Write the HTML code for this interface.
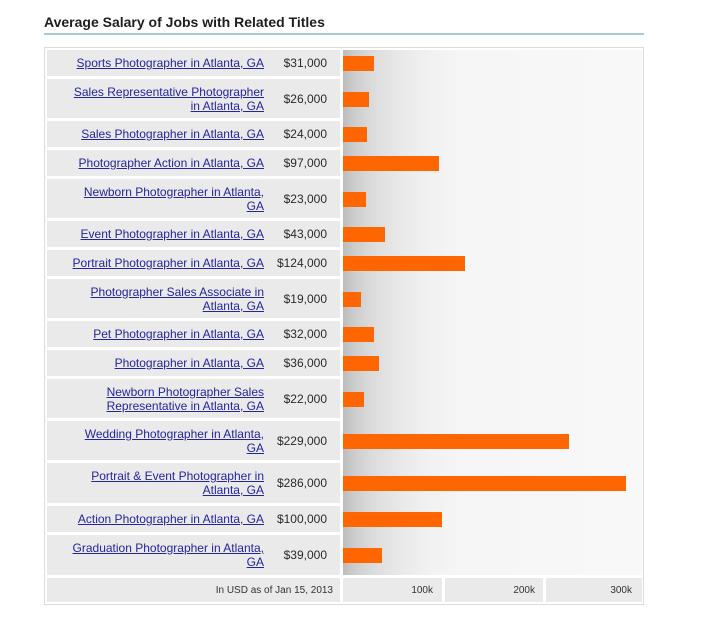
<!DOCTYPE html>
<html><head><meta charset="utf-8">
<style>
*{margin:0;padding:0;box-sizing:border-box}
body{width:705px;height:627px;background:#fff;position:relative;overflow:hidden;font-family:"Liberation Sans",Arial,sans-serif}
.title{position:absolute;left:44px;top:14px;font-size:14px;font-weight:bold;color:#1e1e1e;white-space:nowrap;line-height:17px}
.rule{position:absolute;left:44px;top:33px;width:600px;height:2px;background:#a9c8e2}
.box{position:absolute;left:44px;top:47px;width:600px;height:558px;border:1px solid #dcdcdc}
.cell{position:absolute;left:47px;width:293px;background:#eaeaea}
.lab{position:absolute;left:47px;width:217px;text-align:right;font-size:12px;line-height:14px;color:#24249e;text-decoration:underline;white-space:nowrap;display:flex;align-items:center;justify-content:flex-end}
.lab span{display:block;margin-top:0px}
.val{position:absolute;left:264px;width:63px;text-align:right;font-size:12px;line-height:14px;color:#2a2a2a;white-space:nowrap;display:flex;align-items:center;justify-content:flex-end}
.val span{display:block;margin-top:0px}
.chart{position:absolute;left:343px;top:50px;width:299px;height:525px;background:linear-gradient(to right,#bcbcbc 0px,#cdcdcd 12px,#dcdcdc 30px,#e8e8e8 55px,#f1f1f1 85px,#f6f6f6 120px,#f8f8f8 299px)}
.bar{position:absolute;left:343px;height:15px;background:#ff6600}
.foot{position:absolute;top:578px;height:24px;background:#eaeaea;font-size:10px;color:#333;line-height:25px;text-align:right;white-space:nowrap}
</style></head><body>
<div class="title">Average Salary of Jobs with Related Titles</div>
<div class="rule"></div>
<div class="box"></div>
<div class="chart"></div>

<div class="cell" style="top:50px;height:26px"></div>
<div class="lab" style="top:50px;height:26px"><span>Sports Photographer in Atlanta, GA</span></div>
<div class="val" style="top:50px;height:26px"><span>$31,000</span></div>
<div class="bar" style="top:56px;width:31px"></div>

<div class="cell" style="top:79px;height:39px"></div>
<div class="lab" style="top:79px;height:39px"><span>Sales Representative Photographer<br>in Atlanta, GA</span></div>
<div class="val" style="top:79px;height:39px"><span>$26,000</span></div>
<div class="bar" style="top:92px;width:26px"></div>

<div class="cell" style="top:121px;height:26px"></div>
<div class="lab" style="top:121px;height:26px"><span>Sales Photographer in Atlanta, GA</span></div>
<div class="val" style="top:121px;height:26px"><span>$24,000</span></div>
<div class="bar" style="top:127px;width:24px"></div>

<div class="cell" style="top:150px;height:26px"></div>
<div class="lab" style="top:150px;height:26px"><span>Photographer Action in Atlanta, GA</span></div>
<div class="val" style="top:150px;height:26px"><span>$97,000</span></div>
<div class="bar" style="top:156px;width:96px"></div>

<div class="cell" style="top:179px;height:39px"></div>
<div class="lab" style="top:179px;height:39px"><span>Newborn Photographer in Atlanta,<br>GA</span></div>
<div class="val" style="top:179px;height:39px"><span>$23,000</span></div>
<div class="bar" style="top:192px;width:23px"></div>

<div class="cell" style="top:221px;height:26px"></div>
<div class="lab" style="top:221px;height:26px"><span>Event Photographer in Atlanta, GA</span></div>
<div class="val" style="top:221px;height:26px"><span>$43,000</span></div>
<div class="bar" style="top:227px;width:42px"></div>

<div class="cell" style="top:250px;height:26px"></div>
<div class="lab" style="top:250px;height:26px"><span>Portrait Photographer in Atlanta, GA</span></div>
<div class="val" style="top:250px;height:26px"><span>$124,000</span></div>
<div class="bar" style="top:256px;width:122px"></div>

<div class="cell" style="top:279px;height:39px"></div>
<div class="lab" style="top:279px;height:39px"><span>Photographer Sales Associate in<br>Atlanta, GA</span></div>
<div class="val" style="top:279px;height:39px"><span>$19,000</span></div>
<div class="bar" style="top:292px;width:18px"></div>

<div class="cell" style="top:321px;height:26px"></div>
<div class="lab" style="top:321px;height:26px"><span>Pet Photographer in Atlanta, GA</span></div>
<div class="val" style="top:321px;height:26px"><span>$32,000</span></div>
<div class="bar" style="top:327px;width:31px"></div>

<div class="cell" style="top:350px;height:26px"></div>
<div class="lab" style="top:350px;height:26px"><span>Photographer in Atlanta, GA</span></div>
<div class="val" style="top:350px;height:26px"><span>$36,000</span></div>
<div class="bar" style="top:356px;width:36px"></div>

<div class="cell" style="top:379px;height:39px"></div>
<div class="lab" style="top:379px;height:39px"><span>Newborn Photographer Sales<br>Representative in Atlanta, GA</span></div>
<div class="val" style="top:379px;height:39px"><span>$22,000</span></div>
<div class="bar" style="top:392px;width:21px"></div>

<div class="cell" style="top:421px;height:39px"></div>
<div class="lab" style="top:421px;height:39px"><span>Wedding Photographer in Atlanta,<br>GA</span></div>
<div class="val" style="top:421px;height:39px"><span>$229,000</span></div>
<div class="bar" style="top:434px;width:226px"></div>

<div class="cell" style="top:463px;height:40px"></div>
<div class="lab" style="top:463px;height:40px"><span>Portrait &amp; Event Photographer in<br>Atlanta, GA</span></div>
<div class="val" style="top:463px;height:40px"><span>$286,000</span></div>
<div class="bar" style="top:476px;width:283px"></div>

<div class="cell" style="top:506px;height:26px"></div>
<div class="lab" style="top:506px;height:26px"><span>Action Photographer in Atlanta, GA</span></div>
<div class="val" style="top:506px;height:26px"><span>$100,000</span></div>
<div class="bar" style="top:512px;width:99px"></div>

<div class="cell" style="top:535px;height:40px"></div>
<div class="lab" style="top:535px;height:40px"><span>Graduation Photographer in Atlanta,<br>GA</span></div>
<div class="val" style="top:535px;height:40px"><span>$39,000</span></div>
<div class="bar" style="top:548px;width:39px"></div>

<div class="foot" style="left:47px;width:293px;padding-right:7px">In USD as of Jan 15, 2013</div>
<div class="foot" style="left:343px;width:99px;padding-right:9px">100k</div>
<div class="foot" style="left:445px;width:98px;padding-right:8px">200k</div>
<div class="foot" style="left:546px;width:96px;padding-right:10px">300k</div>
</body></html>
